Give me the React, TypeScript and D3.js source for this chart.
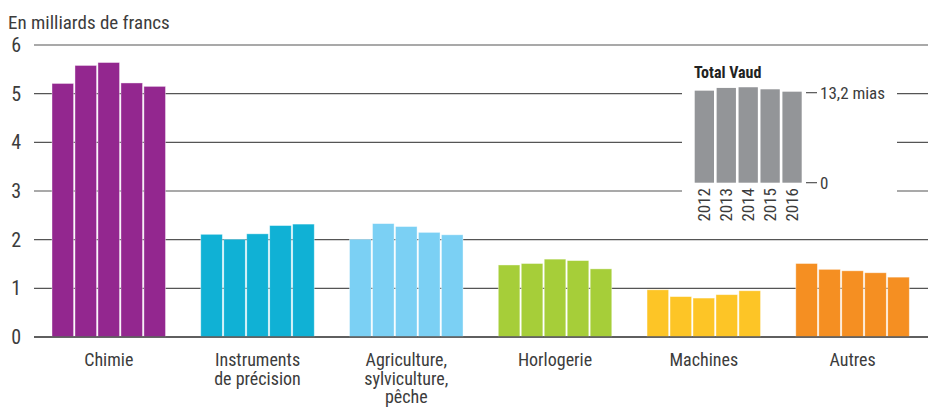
import React from "react";
import * as d3 from "d3";

const categories = ["Chimie", "Instruments de précision", "Agriculture, sylviculture, pêche", "Horlogerie", "Machines", "Autres"];
const categoryLines = [["Chimie"], ["Instruments", "de précision"], ["Agriculture,", "sylviculture,", "pêche"], ["Horlogerie"], ["Machines"], ["Autres"]];
const years = ["2012", "2013", "2014", "2015", "2016"];
const chimie = [5.21, 5.58, 5.64, 5.22, 5.15];
const instruments = [2.11, 2.01, 2.12, 2.29, 2.32];
const agriculture = [2.01, 2.33, 2.27, 2.15, 2.10];
const horlogerie = [1.48, 1.51, 1.60, 1.57, 1.40];
const machines = [0.97, 0.83, 0.80, 0.87, 0.95];
const autres = [1.51, 1.39, 1.36, 1.32, 1.23];
const seriesValues = [chimie, instruments, agriculture, horlogerie, machines, autres];
const colors = ["#93278F", "#10B1D5", "#7BD0F4", "#A6CE39", "#FDC526", "#F58F22"];
const yTicks = [0, 1, 2, 3, 4, 5, 6];
const totalVaud = [13.5, 13.9, 14.0, 13.7, 13.35];
const insetTicks = [{ v: 0, label: "0" }, { v: 13.2, label: "13,2 mias" }];

const FONT = "'Liberation Sans Narrow', 'Roboto Condensed', 'DejaVu Sans Condensed', 'Arial Narrow', sans-serif";

export default function App() {
  const W = 928, H = 414;
  const y = d3.scaleLinear().domain([0, 6]).range([337, 45]);
  const x0 = d3.scaleBand<string>().domain(categories).range([52, 909.3]).paddingInner(0.237).paddingOuter(0);
  const x1 = d3.scaleBand<string>().domain(years).range([0, x0.bandwidth()]).paddingInner(0.06);

  const ix = d3.scaleBand<string>().domain(years).range([694.7, 801.7]).paddingInner(0.12);
  const iy = d3.scaleLinear().domain([0, 13.2]).range([182.7, 92.7]);
  const txt = "#3c3c3c";

  return (
    <svg width={W} height={H} style={{ position: "absolute", left: 0, top: 0, background: "#fff" }} fontFamily={FONT}>
      <text x={8} y={29} fontSize={19} fill={txt}>En milliards de francs</text>
      {yTicks.map((t) => (
        <g key={t}>
          <line x1={34} x2={W} y1={y(t)} y2={y(t)} stroke="#555" strokeWidth={t === 0 ? 1.6 : 1.1} />
          <text x={21} y={y(t) + 7} fontSize={20} textAnchor="end" fill={txt}>{t}</text>
        </g>
      ))}
      <rect x={682} y={58} width={215} height={172} fill="#fff" />
      {categories.map((c, i) => (
        <g key={c} transform={`translate(${x0(c)},0)`}>
          {seriesValues[i].map((v, j) => (
            <rect key={j} x={x1(years[j])} y={y(v)} width={x1.bandwidth()} height={y(0) - y(v)} fill={colors[i]} stroke="#fff" strokeOpacity={0.5} strokeWidth={0.8} />
          ))}
          {categoryLines[i].map((ln, k) => (
            <text key={k} x={x0.bandwidth() / 2} y={366 + k * 18.5} fontSize={18} textAnchor="middle" fill={txt}>{ln}</text>
          ))}
        </g>
      ))}
      <line x1={34} x2={W} y1={y(0)} y2={y(0)} stroke="#555" strokeWidth={1.6} />
      <text x={694} y={78} fontSize={16} fontWeight="bold" fill="#222">Total Vaud</text>
      {totalVaud.map((v, j) => (
        <rect key={j} x={ix(years[j])} y={iy(v)} width={ix.bandwidth()} height={iy(0) - iy(v)} fill="#939598" />
      ))}
      {insetTicks.map((t) => (
        <g key={t.label}>
          <line x1={806} x2={817} y1={iy(t.v)} y2={iy(t.v)} stroke="#444" strokeWidth={1.1} />
          <text x={820} y={iy(t.v) + 6} fontSize={17} fill={txt}>{t.label}</text>
        </g>
      ))}
      {years.map((yr) => (
        <text key={yr} transform={`translate(${(ix(yr) as number) + ix.bandwidth() / 2 + 6},188) rotate(-90)`} fontSize={17} textAnchor="end" fill={txt}>{yr}</text>
      ))}
    </svg>
  );
}
